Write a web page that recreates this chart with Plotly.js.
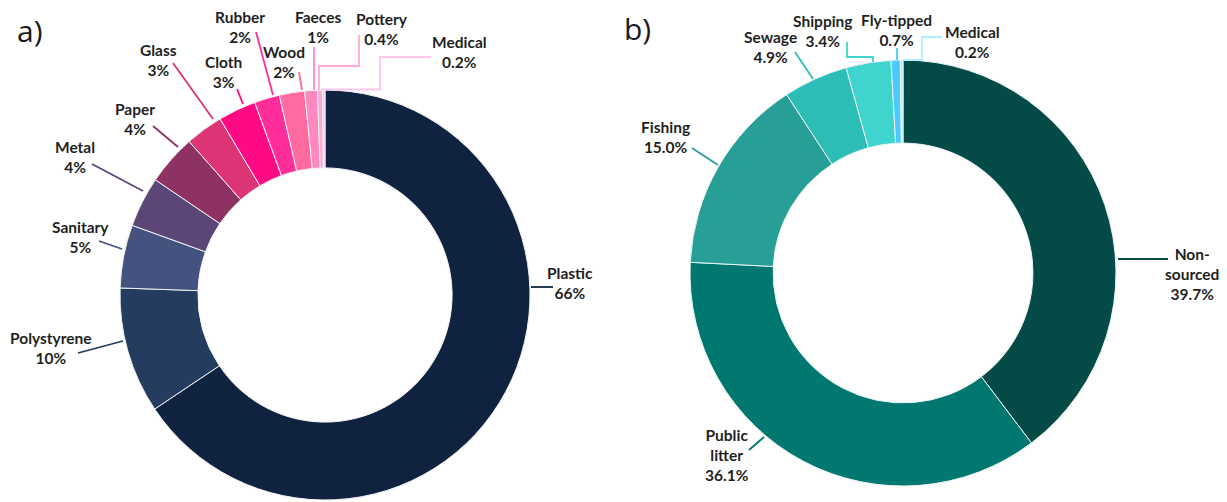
<!DOCTYPE html>
<html><head><meta charset="utf-8">
<script src="https://cdn.plot.ly/plotly-3.0.1.min.js"></script>
<style>html,body{margin:0;padding:0;background:#fff}#chart{width:1227px;height:502px}</style>
</head><body><div id="chart"></div>
<script>
// ---- data ----
const categoriesA = ['Plastic','Polystyrene','Sanitary','Metal','Paper','Glass','Cloth','Rubber','Wood','Faeces','Pottery','Medical'];
const valuesA = [66, 10, 5, 4, 4, 3, 3, 2, 2, 1, 0.4, 0.2];
const categoriesB = ['Non-sourced','Public litter','Fishing','Sewage','Shipping','Fly-tipped','Medical'];
const valuesB = [39.7, 36.1, 15.0, 4.9, 3.4, 0.7, 0.2];

// ---- style ----
const colorsA = ['#0f2340','#243c5f','#45527f','#5c4678','#8e3264','#dc3474','#ff0a84','#ff2e9b','#ff6aa0','#ff88c0','#ffa8d8','#ffc6ec'];
const colorsB = ['#044b48','#00786f','#279f96','#2dbdb7','#3fd4cd','#4ccaff','#aef0ff'];
const W = 1227, H = 502;
const fx = x => x / W, fy = y => 1 - y / H;

// label centres (px) and leader paths (px)
const labelPosA = [[570,283],[51,348],[80,237],[75,157],[135,119],[159,60],[223,72],[240,27],[284,62],[318,27],[382,29],[459,52]];
const leaderA = [
  [[531,287],[553,287]],
  [[123,341],[78,353]],
  [[122,249],[99,241]],
  [[143,191],[92,164]],
  [[178,147],[153,126]],
  [[213,119],[173,63]],
  [[243,104],[237,89]],
  [[273,95],[256,32]],
  [[302,90],[299,72]],
  [[314,90],[314,47]],
  [[319,90],[319,66],[359,66],[359,35]],
  [[322,89.5],[380,89.5],[380,57],[431,57]]
];
const labelPosB = [[1192,274],[727,455],[666,137],[770,47],[823,31],[896,30],[972,42]];
const leaderB = [
  [[1118,259],[1168,259]],
  [[764,437],[749,450]],
  [[718,165],[692,148]],
  [[813,79],[795,52]],
  [[873,62],[873,57],[847,57],[847,42]],
  [[897,60],[897,48]],
  [[903,60],[922,60],[922,37],[942,37]]
];

const fmtA = v => (v >= 1 ? v.toFixed(0) : v.toFixed(1)) + '%';
const fmtB = v => v.toFixed(1) + '%';
const wrap = s => s.replace('Non-', 'Non-<br>').replace('Public ', 'Public<br>');

const traces = [
  {type:'pie', labels:categoriesA, values:valuesA, sort:false, direction:'clockwise', rotation:0,
   hole:0.62, textinfo:'none', hoverinfo:'none', marker:{colors:colorsA, line:{color:'#f2f2f2', width:1}},
   domain:{x:[fx(120), fx(530)], y:[fy(500), fy(90)]}},
  {type:'pie', labels:categoriesB, values:valuesB, sort:false, direction:'clockwise', rotation:0,
   hole:0.61, textinfo:'none', hoverinfo:'none', marker:{colors:colorsB, line:{color:'#e8f4f4', width:1}},
   domain:{x:[fx(690), fx(1116)], y:[fy(486), fy(60)]}}
];

const annotations = [];
const shapes = [];
const lblFont = {family:'Lato, "Open Sans", sans-serif', size:15.5, color:'#1f1f1f', weight:'bold'};
function addLabels(cats, vals, pos, leaders, colors, fmt) {
  cats.forEach((c, i) => {
    annotations.push({text:'<b>' + wrap(c) + '<br>' + fmt(vals[i]) + '</b>', x:fx(pos[i][0]), y:fy(pos[i][1]),
      xref:'paper', yref:'paper', xanchor:'center', yanchor:'middle', showarrow:false, align:'center', font:lblFont});
    const p = leaders[i].map((q, k) => (k ? 'L' : 'M') + fx(q[0]) + ',' + fy(q[1])).join(' ');
    shapes.push({type:'path', path:p, xref:'paper', yref:'paper', line:{color:colors[i], width:1.8}});
  });
}
addLabels(categoriesA, valuesA, labelPosA, leaderA, colorsA, fmtA);
addLabels(categoriesB, valuesB, labelPosB, leaderB, colorsB, fmtB);

annotations.push({text:'a)', x:fx(30), y:fy(31), xref:'paper', yref:'paper', xanchor:'center', yanchor:'middle', showarrow:false,
  font:{family:'"Open Sans", sans-serif', size:30, color:'#1a1a1a'}});
annotations.push({text:'b)', x:fx(638), y:fy(29), xref:'paper', yref:'paper', xanchor:'center', yanchor:'middle', showarrow:false,
  font:{family:'"Open Sans", sans-serif', size:30, color:'#1a1a1a'}});

const layout = {width:W, height:H, margin:{l:0, r:0, t:0, b:0}, showlegend:false,
  paper_bgcolor:'#ffffff', plot_bgcolor:'#ffffff', annotations, shapes};

Plotly.newPlot('chart', traces, layout, {staticPlot:true, displayModeBar:false});
</script></body></html>
